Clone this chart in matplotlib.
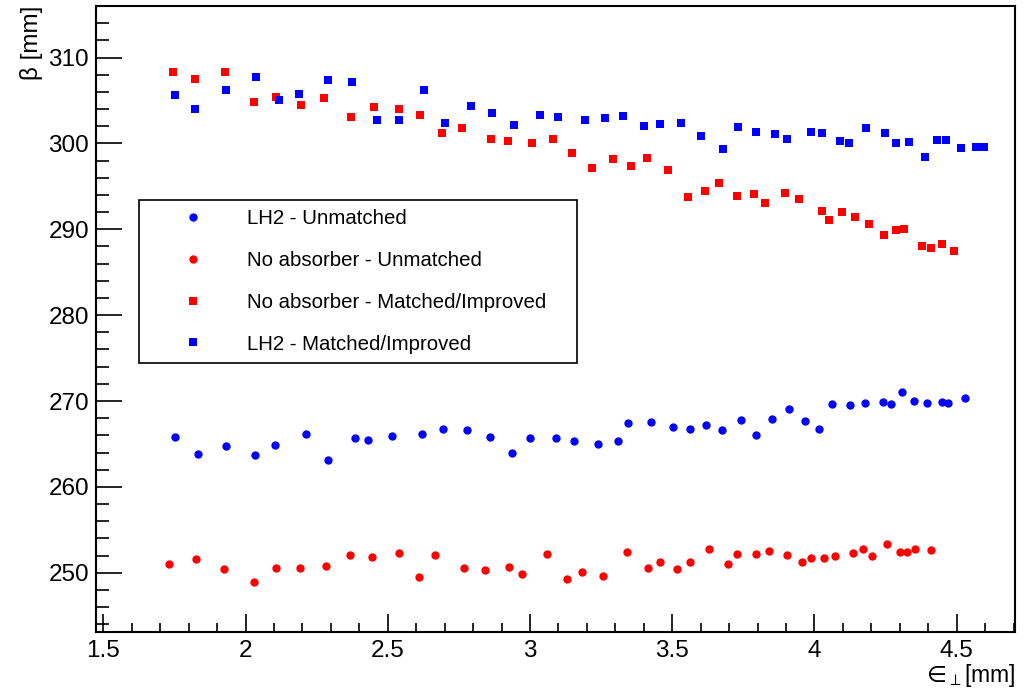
import matplotlib
matplotlib.use("Agg")
import matplotlib.pyplot as plt
from matplotlib.ticker import MultipleLocator, StrMethodFormatter

plt.rcParams['font.family'] = ['Liberation Sans', 'DejaVu Sans']
plt.rcParams['mathtext.fontset'] = 'dejavusans'

# LH2 - Matched/Improved (squares)
eps_lh2_matched = [1.752, 1.822, 1.931, 2.036, 2.119, 2.188, 2.290, 2.375, 2.461, 2.540,
                   2.627, 2.700, 2.793, 2.868, 2.943, 3.034, 3.098, 3.193, 3.262, 3.327,
                   3.402, 3.458, 3.530, 3.602, 3.678, 3.731, 3.796, 3.861, 3.903, 3.987,
                   4.026, 4.091, 4.123, 4.180, 4.249, 4.286, 4.331, 4.389, 4.431, 4.464,
                   4.515, 4.567, 4.595]
beta_lh2_matched = [305.6, 304.0, 306.2, 307.7, 305.0, 305.8, 307.4, 307.1, 302.7, 302.7,
                    306.2, 302.4, 304.3, 303.5, 302.2, 303.3, 303.1, 302.7, 302.9, 303.2,
                    302.0, 302.3, 302.4, 300.9, 299.3, 301.9, 301.3, 301.1, 300.5, 301.3,
                    301.2, 300.3, 300.1, 301.8, 301.2, 300.1, 300.2, 298.4, 300.4, 300.4,
                    299.5, 299.6, 299.6]

# No absorber - Matched/Improved (squares)
eps_noabs_matched = [1.745, 1.822, 1.928, 2.029, 2.108, 2.194, 2.274, 2.370, 2.452, 2.540,
                     2.613, 2.692, 2.760, 2.862, 2.921, 3.007, 3.081, 3.149, 3.219, 3.290,
                     3.354, 3.412, 3.484, 3.555, 3.614, 3.665, 3.726, 3.786, 3.825, 3.896,
                     3.947, 4.025, 4.050, 4.096, 4.143, 4.191, 4.245, 4.287, 4.315, 4.377,
                     4.410, 4.449, 4.491]
beta_noabs_matched = [308.3, 307.5, 308.3, 304.8, 305.4, 304.5, 305.3, 303.1, 304.2, 304.0,
                      303.3, 301.2, 301.8, 300.5, 300.3, 300.1, 300.5, 298.9, 297.1, 298.2,
                      297.4, 298.3, 296.9, 293.8, 294.5, 295.4, 293.9, 294.1, 293.1, 294.2,
                      293.5, 292.1, 291.1, 292.0, 291.4, 290.6, 289.3, 289.9, 290.0, 288.1,
                      287.8, 288.3, 287.5]

# LH2 - Unmatched (circles)
eps_lh2_unmatched = [1.752, 1.833, 1.930, 2.032, 2.102, 2.212, 2.289, 2.384, 2.432, 2.513,
                     2.619, 2.694, 2.780, 2.858, 2.936, 3.000, 3.093, 3.156, 3.238, 3.310,
                     3.343, 3.425, 3.504, 3.563, 3.620, 3.674, 3.743, 3.796, 3.850, 3.912,
                     3.965, 4.017, 4.062, 4.126, 4.176, 4.242, 4.270, 4.307, 4.350, 4.397,
                     4.449, 4.468, 4.528]
beta_lh2_unmatched = [265.8, 263.8, 264.8, 263.7, 264.9, 266.2, 263.1, 265.7, 265.5, 265.9,
                      266.2, 266.7, 266.6, 265.8, 263.9, 265.7, 265.7, 265.3, 265.0, 265.4,
                      267.4, 267.5, 267.0, 266.7, 267.2, 266.6, 267.8, 266.0, 267.9, 269.1,
                      267.7, 266.7, 269.6, 269.5, 269.8, 269.9, 269.6, 271.1, 270.0, 269.8,
                      269.9, 269.8, 270.4]

# No absorber - Unmatched (circles)
eps_noabs_unmatched = [1.729, 1.826, 1.923, 2.029, 2.106, 2.192, 2.281, 2.366, 2.446, 2.538,
                       2.608, 2.666, 2.769, 2.841, 2.926, 2.973, 3.060, 3.130, 3.183, 3.255,
                       3.342, 3.413, 3.458, 3.516, 3.563, 3.630, 3.695, 3.726, 3.794, 3.839,
                       3.905, 3.955, 3.987, 4.033, 4.073, 4.135, 4.172, 4.201, 4.256, 4.300,
                       4.326, 4.354, 4.410]
beta_noabs_unmatched = [251.0, 251.6, 250.4, 248.9, 250.6, 250.6, 250.8, 252.1, 251.8, 252.3,
                        249.5, 252.1, 250.6, 250.3, 250.7, 249.9, 252.2, 249.3, 250.1, 249.6,
                        252.4, 250.6, 251.3, 250.4, 251.3, 252.8, 251.0, 252.2, 252.2, 252.5,
                        252.1, 251.3, 251.7, 251.7, 252.0, 252.3, 252.8, 252.0, 253.3, 252.4,
                        252.4, 252.8, 252.6]

fig = plt.figure(figsize=(10.27, 6.89), dpi=100)
ax = fig.add_axes([96 / 1027, 1 - 632 / 689, 919 / 1027, 626 / 689])

ax.plot(eps_lh2_unmatched, beta_lh2_unmatched, 'o', color='#0000ff', ms=6.0, mew=0,
        label='LH2 - Unmatched')
ax.plot(eps_noabs_unmatched, beta_noabs_unmatched, 'o', color='#ff0000', ms=6.0, mew=0,
        label='No absorber - Unmatched')
ax.plot(eps_noabs_matched, beta_noabs_matched, 's', color='#ff0000', ms=6.2, mew=0,
        label='No absorber - Matched/Improved')
ax.plot(eps_lh2_matched, beta_lh2_matched, 's', color='#0000ff', ms=6.2, mew=0,
        label='LH2 - Matched/Improved')

ax.set_xlim(1.474, 4.705)
ax.set_ylim(243.1, 316.0)

ax.xaxis.set_major_locator(MultipleLocator(0.5))
ax.xaxis.set_minor_locator(MultipleLocator(0.1))
ax.yaxis.set_major_locator(MultipleLocator(10))
ax.yaxis.set_minor_locator(MultipleLocator(2))
ax.xaxis.set_major_formatter(StrMethodFormatter('{x:g}'))
ax.yaxis.set_major_formatter(StrMethodFormatter('{x:g}'))

ax.tick_params(axis='both', which='both', direction='in', top=False, right=False,
               width=1.2, labelsize=17.5, colors='black')
ax.tick_params(axis='y', which='major', length=19, pad=5)
ax.tick_params(axis='y', which='minor', length=9.5)
ax.tick_params(axis='x', which='major', length=13, pad=5.5)
ax.tick_params(axis='x', which='minor', length=6.5)

for sp in ax.spines.values():
    sp.set_linewidth(1.5)
    sp.set_color('black')

ax.set_ylabel('β [mm]', fontsize=17.5, loc='top')
ax.yaxis.set_label_coords(-0.058, 1.0)
ax.set_xlabel('$∈_{\\perp}$[mm]', fontsize=16.5, loc='right')
ax.xaxis.set_label_coords(1.0, -0.048)

leg = ax.legend(loc='upper left', bbox_to_anchor=(0.0468, 0.4345, 0.4766, 0.256),
                mode='expand', borderaxespad=0, fontsize=14.7, frameon=True,
                fancybox=False, edgecolor='black', framealpha=1,
                borderpad=0.45, labelspacing=1.12, handlelength=4.4,
                handletextpad=0.45, numpoints=1)
leg.get_frame().set_linewidth(1.2)

fig.savefig('out.png', dpi=100)
